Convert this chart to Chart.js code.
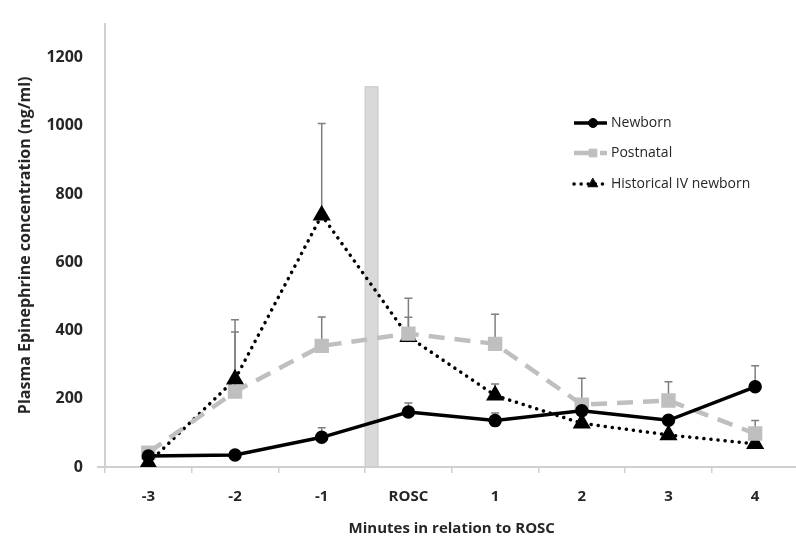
<!DOCTYPE html>
<html>
<head>
<meta charset="utf-8">
<script src="https://cdn.jsdelivr.net/npm/chart.js@4"></script>
<style>
  html, body { margin: 0; padding: 0; background: #fff; overflow: hidden; }
  #wrap { width: 810px; height: 538px; }
</style>
</head>
<body>
<div id="wrap"><canvas id="epiChart" width="810" height="538"></canvas></div>
<script>
// categories
var minutes = ['-3', '-2', '-1', 'ROSC', '1', '2', '3', '4'];

// mean values (ng/ml)
var newborn = [32, 35, 87, 161, 136, 165, 137, 235];
var postnatal = [42, 221, 355, 391, 361, 183, 195, 98];
var historicalIV = [12, 257, 738, 382, 210, 128, 94, 68];

// upper end of the error bars (null = none drawn)
var newbornErr = [null, null, 115, 188, 158, null, null, 297];
var postnatalErr = [null, 396, 440, 495, 448, 260, 250, 136];
var historicalErr = [null, 432, 1007, 439, 243, null, null, null];

// y tick labels
var yTicks = [0, 200, 400, 600, 800, 1000, 1200];

// shaded band between -1 and ROSC
var bandTop = 1115;

var errors = [newbornErr, postnatalErr, historicalErr];

// band + error bars, behind the lines
var extras = {
    id: 'extras',
    beforeDatasetsDraw: function (chart) {
        var ctx = chart.ctx;
        var x = chart.scales.x, y = chart.scales.y;
        ctx.save();
        var x0 = x.getPixelForValue(2.5);
        var x1 = x.getPixelForValue(2.65);
        var yt = y.getPixelForValue(bandTop), yb = y.getPixelForValue(0);
        ctx.fillStyle = '#d9d9d9';
        ctx.strokeStyle = '#c9c9c9';
        ctx.lineWidth = 1;
        ctx.fillRect(x0, yt, x1 - x0, yb - yt);
        ctx.strokeRect(x0, yt, x1 - x0, yb - yt);

        ctx.strokeStyle = '#7f7f7f';
        ctx.lineWidth = 1.5;
        chart.data.datasets.forEach(function (ds, i) {
            errors[i].forEach(function (top, j) {
                if (top === null) return;
                var px = x.getPixelForValue(j);
                var pyMean = y.getPixelForValue(ds.data[j]);
                var pyTop = y.getPixelForValue(top);
                ctx.beginPath();
                ctx.moveTo(px, pyMean);
                ctx.lineTo(px, pyTop);
                ctx.moveTo(px - 4, pyTop);
                ctx.lineTo(px + 4, pyTop);
                ctx.stroke();
            });
        });
        ctx.restore();
    }
};

// legend drawn like the original (line sample + marker)
var legendMarker = [4.5, 5.5, 5.5];
var legendBox = {
    id: 'legendBox',
    afterDraw: function (chart) {
        var ctx = chart.ctx;
        var rows = [123, 153, 184];
        ctx.save();
        chart.data.datasets.forEach(function (ds, i) {
            var yy = rows[i];
            ctx.strokeStyle = ds.borderColor;
            ctx.lineWidth = ds.borderWidth;
            ctx.lineCap = ds.borderCapStyle || 'butt';
            ctx.setLineDash(ds.borderDash || []);
            ctx.beginPath();
            ctx.moveTo(574, yy);
            ctx.lineTo(607, yy);
            ctx.stroke();
            ctx.setLineDash([]);
            ctx.fillStyle = ds.pointBackgroundColor;
            ctx.strokeStyle = ds.pointBorderColor;
            ctx.lineWidth = 1;
            Chart.helpers.drawPoint(ctx, {
                pointStyle: ds.pointStyle,
                radius: legendMarker[i],
                rotation: 0,
                borderWidth: 1
            }, 593, yy);
            ctx.fillStyle = '#262626';
            ctx.font = '14px "Open Sans"';
            ctx.textBaseline = 'middle';
            ctx.fillText(ds.label, 611, yy);
        });
        ctx.restore();
    }
};

Chart.defaults.font.family = '"Open Sans", sans-serif';
Chart.defaults.color = '#262626';

new Chart(document.getElementById('epiChart'), {
    type: 'line',
    data: {
        labels: minutes,
        datasets: [{
            label: 'Newborn',
            data: newborn,
            borderColor: '#000',
            backgroundColor: '#000',
            borderWidth: 3.5,
            pointStyle: 'circle',
            pointRadius: 5,
            pointBackgroundColor: '#000',
            pointBorderColor: '#000',
            tension: 0
        }, {
            label: 'Postnatal',
            data: postnatal,
            borderColor: '#bfbfbf',
            backgroundColor: '#bfbfbf',
            borderWidth: 4.5,
            borderDash: [16, 10],
            pointStyle: 'rect',
            pointRadius: 7,
            pointBackgroundColor: '#bfbfbf',
            pointBorderColor: '#bfbfbf',
            tension: 0
        }, {
            label: 'Historical IV newborn',
            data: historicalIV,
            borderColor: '#000',
            backgroundColor: '#000',
            borderWidth: 3.5,
            borderDash: [0.1, 7],
            borderCapStyle: 'round',
            pointStyle: 'triangle',
            pointRadius: 7,
            pointBackgroundColor: '#000',
            pointBorderColor: '#000',
            tension: 0
        }]
    },
    options: {
        responsive: false,
        animation: false,
        layout: { padding: { top: 9, right: 5, left: 0, bottom: 0 } },
        plugins: {
            legend: { display: false },
            tooltip: { enabled: false }
        },
        scales: {
            x: {
                offset: true,
                grid: {
                    offset: true,
                    drawOnChartArea: false,
                    drawTicks: true,
                    tickLength: 6,
                    color: '#d0d0d0',
                    lineWidth: 1.5
                },
                border: { color: '#d0d0d0', width: 2 },
                ticks: { font: { size: 15, weight: 'bold' }, padding: 15, maxRotation: 0 },
                title: {
                    display: true,
                    text: 'Minutes in relation to ROSC',
                    font: { size: 15, weight: 'bold' },
                    padding: { top: 2, bottom: 0 }
                },
                afterFit: function (s) { s.height = 71; }
            },
            y: {
                min: 0,
                max: 1300,
                afterBuildTicks: function (s) {
                    s.ticks = yTicks.map(function (v) { return { value: v }; });
                },
                grid: {
                    drawOnChartArea: false,
                    drawTicks: true,
                    tickLength: 8,
                    color: function (c) { return c.tick && c.tick.value === 0 ? '#d0d0d0' : 'rgba(0,0,0,0)'; },
                    lineWidth: 2
                },
                border: { color: '#d0d0d0', width: 2 },
                ticks: {
                    font: { size: 16, weight: 'bold' },
                    padding: 14,
                    callback: function (v) { return String(v); }
                },
                title: {
                    display: true,
                    text: 'Plasma Epinephrine concentration (ng/ml)',
                    font: { size: 16, weight: 'bold' },
                    padding: { top: 16, bottom: 0 }
                },
                afterFit: function (s) { s.width = 105; }
            }
        }
    },
    plugins: [extras, legendBox]
});
</script>
</body>
</html>
